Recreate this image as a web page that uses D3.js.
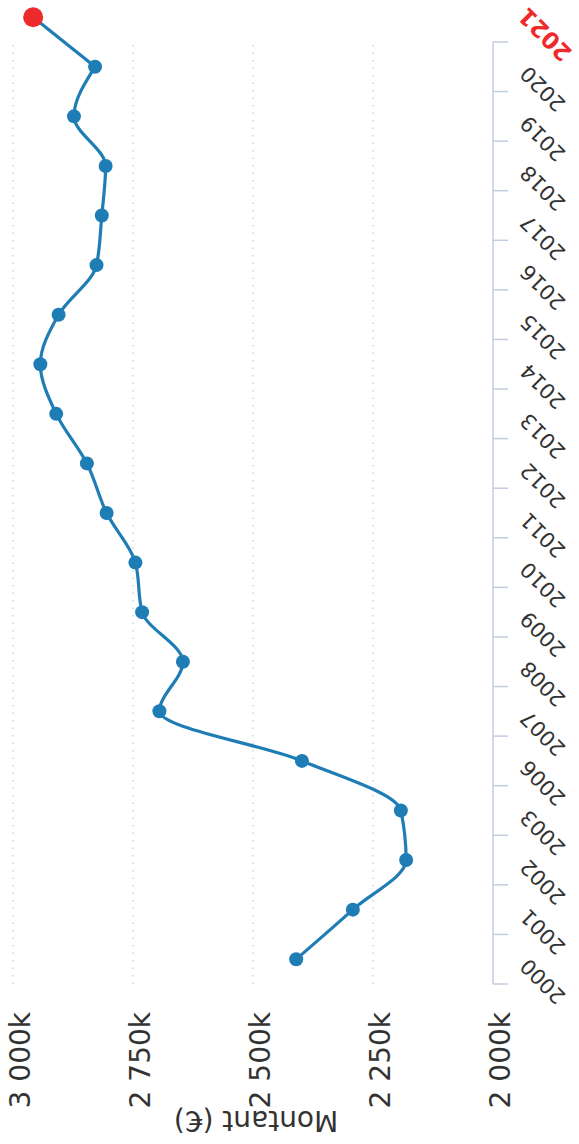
<!DOCTYPE html>
<html><head><meta charset="utf-8">
<script src="https://cdn.jsdelivr.net/npm/d3@7"></script>
<style>body{margin:0;background:#fff;overflow:hidden}svg{display:block}</style>
</head><body>
<svg id="c" width="579" height="1144"></svg>
<script>
// ---- data ----
const years = ["2000","2001","2002","2003","2006","2007","2008","2009","2010","2011","2012","2013","2014","2015","2016","2017","2018","2019","2020"];
const values = [2410,2292,2181,2192,2398,2695,2646,2731,2745,2805,2846,2910,2943,2905,2826,2815,2807,2873,2829];
const extraYears = ["2020","2021"];
const extraValues = [2829,2958];
const valueTicks = [2000,2250,2500,2750,3000];
const valueTickLabels = ["2 000k","2 250k","2 500k","2 750k","3 000k"];
const gridTicks = [2250,2500,2750,3000];
const yTitle = "Montant (€)";
const highlightLabel = "2021";

// ---- layout (chart drawn in its own frame, then turned a quarter turn) ----
const plotLeft = 160, plotRight = 1102, plotTop = 13, plotBottom = 493;
const font = "'DejaVu Sans', Verdana, sans-serif";
const lineColor = "#1f7db5", redColor = "#ee2a2d", axisColor = "#c3cde2";

const svg = d3.select("#c");
const g = svg.append("g").attr("transform", "translate(0,1144) rotate(-90)");

const allCats = years.concat([highlightLabel]);
const bw0 = (plotRight - plotLeft) / years.length;
const x = d3.scaleBand().domain(allCats).range([plotLeft, plotLeft + bw0 * allCats.length]).padding(0);
const bw = x.bandwidth();
const cx = d => x(d) + bw / 2;
const y = d3.scaleLinear().domain([2000, 3000]).range([plotBottom, plotTop]);

// grid lines
g.append("g").selectAll("line").data(gridTicks).join("line")
  .attr("x1", plotLeft).attr("x2", plotRight)
  .attr("y1", d => y(d)).attr("y2", d => y(d))
  .attr("stroke", "#bdbdbd").attr("stroke-width", 1)
  .attr("stroke-dasharray", "1.5,6");

// value axis
const yAxis = d3.axisLeft(y).tickValues(valueTicks)
  .tickFormat(d => valueTickLabels[valueTicks.indexOf(d)]).tickSize(0);
const ya = g.append("g").attr("transform", `translate(${plotLeft},0)`).call(yAxis);
ya.select(".domain").remove();
ya.selectAll("text").attr("x", -28).attr("dy", 16)
  .attr("font-family", font).attr("font-size", 28).attr("fill", "#333").attr("text-anchor", "end");

// y title
g.append("text").attr("transform", `translate(33,${(plotTop + plotBottom) / 2 + 3}) rotate(-90)`)
  .attr("text-anchor", "middle").attr("font-family", font).attr("font-size", 28).attr("fill", "#333")
  .text(yTitle);

// category axis line + ticks (between categories)
g.append("line").attr("x1", plotLeft).attr("x2", plotRight).attr("y1", plotBottom).attr("y2", plotBottom)
  .attr("stroke", axisColor).attr("stroke-width", 1.5);
const tickPos = years.map(d => x(d)).concat([x(years[years.length - 1]) + bw]);
g.append("g").selectAll("line").data(tickPos).join("line")
  .attr("x1", d => d).attr("x2", d => d).attr("y1", plotBottom).attr("y2", plotBottom + 15)
  .attr("stroke", axisColor).attr("stroke-width", 1.5);

// category labels
const xAxis = d3.axisBottom(x).tickValues(years).tickSize(0);
const xa = g.append("g").attr("transform", `translate(0,${plotBottom})`).call(xAxis);
xa.select(".domain").remove();
xa.selectAll(".tick text")
  .attr("transform", "translate(2,36) rotate(-45)").attr("x", 0).attr("y", 0).attr("dy", 0)
  .attr("text-anchor", "end").attr("font-family", font).attr("font-size", 21).attr("fill", "#333");

// highlighted 2021 label
g.append("text").attr("transform", `translate(${cx(highlightLabel) + 11},${plotBottom + 35}) rotate(-45)`)
  .attr("text-anchor", "end").attr("font-family", font).attr("font-size", 23).attr("font-weight", "bold")
  .attr("fill", redColor).text(highlightLabel);

// line series
const pts = years.map((d, i) => ({year: d, value: values[i]}));
const line = d3.line().x(d => cx(d.year)).y(d => y(d.value)).curve(d3.curveMonotoneX);
g.append("path").datum(pts).attr("d", line).attr("fill", "none")
  .attr("stroke", lineColor).attr("stroke-width", 3.2).attr("stroke-linejoin", "round");

const ext = extraYears.map((d, i) => ({year: d, value: extraValues[i]}));
g.append("path").datum(ext).attr("d", d3.line().x(d => cx(d.year)).y(d => y(d.value)))
  .attr("fill", "none").attr("stroke", lineColor).attr("stroke-width", 3.2);

g.append("g").selectAll("circle").data(pts).join("circle")
  .attr("cx", d => cx(d.year)).attr("cy", d => y(d.value)).attr("r", 7).attr("fill", lineColor);

g.append("circle").attr("cx", cx(highlightLabel)).attr("cy", y(extraValues[1])).attr("r", 10)
  .attr("fill", redColor);
</script>
</body></html>
